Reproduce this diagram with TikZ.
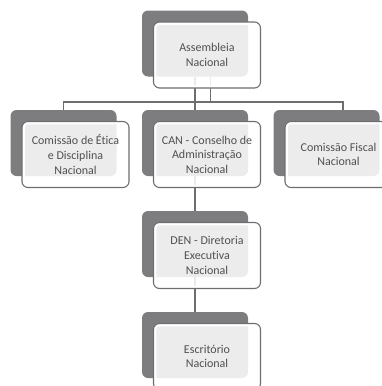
\documentclass[tikz,border=0pt]{standalone}
\usepackage{fontspec}
\setmainfont[Ligatures=NoCommon]{Carlito}
\usepackage{tikz}
\usetikzlibrary{positioning,backgrounds}

\definecolor{boxgray}{HTML}{7D7D7F}
\definecolor{edgegray}{HTML}{6E6E70}
\definecolor{textgray}{HTML}{505050}

\tikzset{
    backbox/.style={rectangle, rounded corners=6pt, fill=boxgray,
        minimum width=106pt, minimum height=66pt, inner sep=0pt},
    frontbox/.style={rectangle, rounded corners=6pt, draw=edgegray, line width=1.1pt,
        fill=white, fill opacity=.86, text opacity=1, text=textgray,
        minimum width=107pt, minimum height=66pt, inner sep=0pt, align=center,
        font=\fontsize{12}{14.6}\selectfont,
        path picture={\draw[white,line width=5.5pt,rounded corners=6pt]
            (path picture bounding box.south west) rectangle (path picture bounding box.north east);}},
    link/.style={draw=edgegray, line width=1.6pt}
}

\begin{document}
\begin{tikzpicture}[x=1pt,y=1pt]
    \useasboundingbox (0,0) rectangle (381,-386);
    \path
        (195,-43.5)   node[backbox] (asmB) {}
     ++ (12,-11.5)    node[frontbox] (asm) {Assembleia\\Nacional};
    \path
        (63.5,-143)   node[backbox] (etiB) {}
     ++ (12,-11.5)    node[frontbox] (eti) {Comissão de Ética\\e Disciplina\\Nacional};
    \path
        (195,-143)    node[backbox] (canB) {}
     ++ (12,-11.5)    node[frontbox] (can) {CAN - Conselho de\\Administração\\Nacional};
    \path
        (326.5,-143)  node[backbox] (fisB) {}
     ++ (12,-11.5)    node[frontbox] (fis) {Comissão Fiscal\\Nacional};
    \path
        (195,-244)    node[backbox] (denB) {}
     ++ (12,-11.5)    node[frontbox] (den) {DEN - Diretoria\\Executiva\\Nacional};
    \path
        (195,-345)    node[backbox] (escB) {}
     ++ (12,-11.5)    node[frontbox] (esc) {Escritório\\Nacional};
    \begin{scope}[on background layer]
     \coordinate (bar) at ([xshift=15.5pt,yshift=-25.5pt]asmB.south);
     \draw [link] ([xshift=15.5pt]asmB.south) -- (bar);
     \draw [link] (etiB.north) |- (bar);
     \draw [link] ([xshift=16.5pt]fisB.north) |- (bar);
     \draw [link] (asmB.south) -- (canB.north);
     \draw [link] (canB.south) -- (denB.north);
     \draw [link] (denB.south) -- (escB.north);
    \end{scope}
\end{tikzpicture}
\end{document}
